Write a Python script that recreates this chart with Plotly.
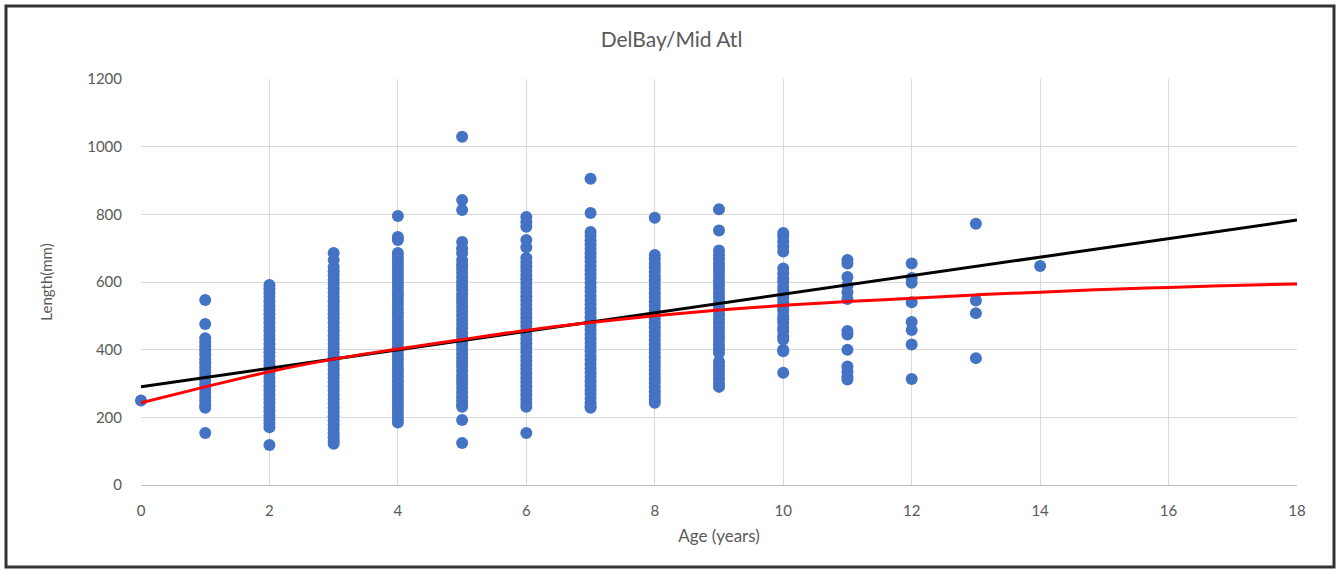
import plotly.graph_objects as go

# ---------------- data ----------------
ages_lengths = {
    0: [250],
    1: [547, 476, 434, 422, 410, 398, 386, 372, 360, 347, 335, 322, 310, 298, 285, 272, 260, 248, 236, 228, 154],
    2: [591, 580, 568, 556, 543, 530, 518, 505, 492, 480, 467, 455, 442, 430, 417, 404, 392, 380, 367, 355, 342,
        330, 317, 305, 292, 280, 267, 255, 243, 230, 218, 205, 193, 182, 171, 118],
    3: [686, 665, 644, 632, 619, 606, 594, 581, 569, 556, 543, 530, 518, 505, 493, 480, 467, 455, 442, 430, 417,
        405, 392, 379, 367, 354, 342, 329, 317, 304, 291, 279, 266, 254, 241, 228, 216, 203, 191, 178, 166, 153,
        141, 130, 122],
    4: [795, 733, 724, 686, 673, 661, 648, 636, 623, 610, 598, 585, 572, 560, 547, 535, 522, 509, 497, 484, 471,
        459, 446, 434, 421, 408, 396, 383, 370, 358, 345, 333, 320, 307, 295, 282, 270, 257, 244, 232, 219, 207,
        195, 185],
    5: [1029, 842, 813, 718, 700, 686, 665, 652, 640, 627, 615, 602, 589, 577, 564, 551, 539, 526, 514, 501, 488,
        476, 463, 451, 438, 425, 413, 400, 387, 375, 362, 350, 337, 324, 312, 299, 287, 274, 261, 249, 238, 231,
        192, 124],
    6: [792, 777, 763, 724, 703, 671, 658, 646, 633, 620, 608, 595, 582, 570, 557, 545, 532, 519, 507, 494, 481,
        469, 456, 444, 431, 418, 406, 393, 380, 368, 355, 343, 330, 317, 305, 292, 279, 267, 254, 242, 231, 154],
    7: [905, 804, 748, 736, 723, 711, 698, 685, 673, 660, 647, 635, 622, 610, 597, 584, 572, 559, 546, 534, 521,
        509, 496, 483, 471, 458, 445, 433, 420, 408, 395, 382, 370, 357, 344, 332, 319, 307, 294, 281, 269, 256,
        243, 233, 228],
    8: [790, 680, 668, 655, 643, 630, 617, 605, 592, 579, 567, 554, 542, 529, 516, 504, 491, 478, 466, 453, 441,
        428, 415, 403, 390, 377, 365, 352, 340, 327, 314, 302, 289, 276, 264, 252, 243],
    9: [815, 752, 693, 680, 668, 655, 642, 630, 617, 604, 592, 579, 566, 554, 541, 528, 516, 503, 490, 478, 465,
        452, 440, 427, 414, 402, 390, 364, 352, 339, 326, 314, 301, 290],
    10: [745, 735, 720, 705, 690, 640, 625, 610, 600, 585, 575, 560, 550, 540, 525, 515, 500, 490, 480, 465, 455,
         440, 430, 400, 395, 332],
    11: [665, 655, 615, 590, 570, 550, 455, 445, 400, 350, 335, 320, 312],
    12: [655, 612, 598, 540, 482, 458, 415, 313],
    13: [772, 545, 508, 375],
    14: [647],
}

fit_ages = [0, 1, 2, 3, 4, 5, 6, 7, 8, 9, 10, 11, 12, 13, 14, 15, 16, 17, 18]
vb_lengths = [243, 290, 335, 372, 402, 430, 457, 480, 500, 517, 531, 542, 552, 562, 570, 578, 584, 590, 594]

linear_ages = [0, 18]
linear_lengths = [290, 783]

x_ticks = [0, 2, 4, 6, 8, 10, 12, 14, 16, 18]
y_ticks = [0, 200, 400, 600, 800, 1000, 1200]

# ---------------- figure ----------------
scatter_x, scatter_y = [], []
for age, vals in ages_lengths.items():
    scatter_x.extend([age] * len(vals))
    scatter_y.extend(vals)

fig = go.Figure()
fig.add_trace(go.Scatter(
    x=scatter_x, y=scatter_y, mode="markers", cliponaxis=False,
    marker=dict(color="#4472C4", size=12, line=dict(width=0)),
    showlegend=False,
))
fig.add_trace(go.Scatter(
    x=linear_ages, y=linear_lengths, mode="lines",
    line=dict(color="#000000", width=3), showlegend=False,
))
fig.add_trace(go.Scatter(
    x=fit_ages, y=vb_lengths, mode="lines",
    line=dict(color="#FF0000", width=3, shape="spline"), showlegend=False,
))

font_family = "Lato, 'Open Sans', sans-serif"
grey = "#595959"

fig.update_layout(
    width=1343, height=569,
    margin=dict(l=141, r=46, t=79, b=84),
    paper_bgcolor="white", plot_bgcolor="white",
    font=dict(family=font_family, color=grey, size=15),
    title=dict(text="DelBay/Mid Atl", x=0.5, xanchor="center", y=0.93, yanchor="middle",
               font=dict(size=21, color=grey, family=font_family)),
    xaxis=dict(
        range=[0, 18], tickvals=x_ticks, ticktext=[str(v) for v in x_ticks],
        showgrid=True, gridcolor="#D9D9D9", gridwidth=1,
        zeroline=False, showline=True, linecolor="#BFBFBF", linewidth=1,
        ticks="", ticklabelstandoff=12,
        tickfont=dict(size=15, color=grey),
        title=dict(text="Age (years)", font=dict(size=17, color=grey), standoff=12),
    ),
    yaxis=dict(
        range=[0, 1200], tickvals=y_ticks, ticktext=[str(v) for v in y_ticks],
        showgrid=True, gridcolor="#D9D9D9", gridwidth=1,
        zeroline=False, showline=False,
        ticks="", ticklabelstandoff=18,
        tickfont=dict(size=15, color=grey),
        title=dict(text="Length(mm)", font=dict(size=15, color=grey), standoff=30),
    ),
)

# outer frame of the chart picture
fig.add_shape(type="rect", xref="paper", yref="paper",
              x0=(6 - 141) / 1156, x1=(1334 - 141) / 1156,
              y0=(485 - 567) / 406, y1=(485 - 6) / 406,
              line=dict(color="#333333", width=3), fillcolor="rgba(0,0,0,0)", layer="below")

fig.write_html("out.html", config={"displayModeBar": False},
               post_script="document.body.style.margin='0px';")
